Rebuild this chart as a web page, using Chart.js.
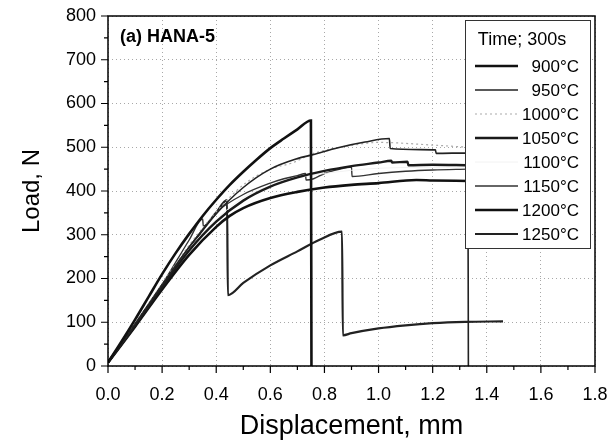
<!DOCTYPE html>
<html>
<head>
<meta charset="utf-8">
<script src="https://cdn.jsdelivr.net/npm/chart.js@4.4.0/dist/chart.umd.min.js"></script>
<style>
  html, body { margin: 0; padding: 0; background: #fff; }
</style>
</head>
<body>
<canvas id="myChart" width="611" height="443"></canvas>
<script>
// load-displacement curves: [displacement mm, load N]
var c900 = [[0,8],[0.05,56],[0.1,106],[0.15,158],[0.2,210],[0.25,258],[0.3,302],[0.35,343],[0.4,380],[0.45,414],[0.5,444],[0.55,472],[0.6,498],[0.65,520],[0.7,541],[0.75,561],[0.752,0]];
var c950 = [[0,8],[0.1,95],[0.2,185],[0.3,272],[0.4,348],[0.5,408],[0.6,450],[0.7,474],[0.757,483],[0.85,499],[0.95,512],[1.04,520],[1.043,497],[1.21,494],[1.213,486],[1.33,487],[1.332,0]];
var c1000 = [[0,8],[0.1,96],[0.2,188],[0.3,276],[0.4,352],[0.5,414],[0.6,450],[0.68,464],[0.76,486],[0.9,504],[1.0,511],[1.2,505],[1.33,500]];
var c1050 = [[0,8],[0.1,92],[0.2,180],[0.3,264],[0.4,330],[0.5,378],[0.6,410],[0.7,431],[0.8,446],[0.9,457],[1.0,465],[1.047,469],[1.05,465],[1.107,467],[1.11,459],[1.2,460],[1.33,459]];
var c1100 = [[0,8],[0.1,93],[0.2,182],[0.3,268],[0.4,335],[0.5,385],[0.6,412],[0.7,430],[0.8,440],[1.0,452],[1.33,455]];
var c1150 = [[0,8],[0.1,95],[0.2,186],[0.3,288],[0.35,336],[0.352,320],[0.4,352],[0.5,392],[0.6,418],[0.65,428],[0.7,435],[0.73,440],[0.732,425],[0.76,428],[0.8,440],[0.85,449],[0.9,455],[0.902,433],[1.0,440],[1.1,445],[1.2,448],[1.33,450]];
var c1200 = [[0,8],[0.1,90],[0.2,175],[0.3,254],[0.4,318],[0.45,343],[0.5,361],[0.6,384],[0.7,398],[0.8,408],[0.9,414],[1.0,418],[1.14,425],[1.2,424],[1.33,423]];
var c1250 = [[0,8],[0.1,95],[0.2,185],[0.3,270],[0.4,350],[0.44,379],[0.443,162],[0.5,190],[0.6,230],[0.7,262],[0.78,288],[0.865,307],[0.868,70],[0.9,75],[1.0,86],[1.1,93],[1.2,98],[1.32,101],[1.46,102]];

var labels = ["900°C", "950°C", "1000°C", "1050°C", "1100°C", "1150°C", "1200°C", "1250°C"];
var curves = [c900, c950, c1000, c1050, c1100, c1150, c1200, c1250];
var colors = ["#111", "#222", "#aaa", "#1a1a1a", "#f2f2f2", "#333", "#111", "#222"];
var widths = [2.6, 1.6, 1.2, 2.4, 1, 1.4, 2.6, 2.2];
var dashes = [[], [], [2, 3], [], [], [], [], []];

var FONT = "'Liberation Sans', Arial, sans-serif";

var datasets = [];
for (var i = 0; i < curves.length; i++) {
    datasets.push({
        label: labels[i],
        data: curves[i].map(function (p) { return {x: p[0], y: p[1]}; }),
        borderColor: colors[i],
        borderWidth: widths[i],
        borderDash: dashes[i],
        pointRadius: 0,
        cubicInterpolationMode: 'monotone',
        fill: false
    });
}

// frame, minor/major ticks, panel label and the boxed legend
var extras = {
    id: 'extras',
    afterDatasetsDraw: function (chart) {
        var ctx = chart.ctx;
        var a = chart.chartArea;
        var xs = chart.scales.x, ys = chart.scales.y;
        ctx.save();
        ctx.strokeStyle = '#000';
        ctx.lineWidth = 1.5;
        ctx.setLineDash([]);
        ctx.strokeRect(a.left, a.top, a.right - a.left, a.bottom - a.top);

        ctx.lineWidth = 1.2;
        ctx.beginPath();
        for (var k = 0; k <= 18; k++) {
            var px = xs.getPixelForValue(k / 10);
            ctx.moveTo(px, a.bottom);
            ctx.lineTo(px, a.bottom + (k % 2 === 0 ? 7 : 4));
        }
        for (var j = 0; j <= 16; j++) {
            var py = ys.getPixelForValue(j * 50);
            ctx.moveTo(a.left, py);
            ctx.lineTo(a.left - (j % 2 === 0 ? 7 : 4), py);
        }
        ctx.stroke();

        ctx.fillStyle = '#000';
        ctx.font = 'bold 18px ' + FONT;
        ctx.textAlign = 'left';
        ctx.textBaseline = 'alphabetic';
        ctx.fillText('(a) HANA-5', 120, 42);

        // legend box
        var bx = 465, by = 20, bw = 125, bh = 228;
        ctx.fillStyle = '#fff';
        ctx.fillRect(bx, by, bw, bh);
        ctx.strokeStyle = '#333';
        ctx.lineWidth = 1;
        ctx.strokeRect(bx + 0.5, by + 0.5, bw, bh);
        ctx.fillStyle = '#000';
        ctx.font = '18px ' + FONT;
        ctx.textAlign = 'center';
        ctx.fillText('Time; 300s', 522, 45);
        ctx.font = '17px ' + FONT;
        ctx.textAlign = 'right';
        ctx.textBaseline = 'middle';
        chart.data.datasets.forEach(function (ds, n) {
            var ly = 66 + n * 24;
            ctx.strokeStyle = ds.borderColor;
            ctx.lineWidth = ds.borderWidth;
            ctx.setLineDash(ds.borderDash);
            ctx.beginPath();
            ctx.moveTo(475, ly);
            ctx.lineTo(518, ly);
            ctx.stroke();
            ctx.setLineDash([]);
            ctx.fillStyle = '#000';
            ctx.fillText(ds.label, 579, ly + 1);
        });
        ctx.restore();
    }
};

var ctx = document.getElementById('myChart').getContext('2d');
var chart = new Chart(ctx, {
    type: 'line',
    data: { datasets: datasets },
    plugins: [extras],
    options: {
        responsive: false,
        devicePixelRatio: 1,
        animation: false,
        layout: { padding: { top: 16, right: 16, left: 0, bottom: 0 } },
        plugins: { legend: { display: false }, tooltip: { enabled: false } },
        scales: {
            x: {
                type: 'linear',
                min: 0, max: 1.8,
                afterFit: function (s) { s.height = 77; s.paddingLeft = 0; s.paddingRight = 0; },
                ticks: {
                    stepSize: 0.2,
                    padding: 18,
                    color: '#000',
                    font: { family: FONT, size: 18 },
                    maxRotation: 0,
                    callback: function (v) { return v.toFixed(1); }
                },
                grid: { color: '#a8a8a8', lineWidth: 1, drawTicks: false },
                border: { display: false, dash: [1, 3] },
                title: {
                    display: true,
                    text: 'Displacement, mm',
                    color: '#000',
                    font: { family: FONT, size: 27 },
                    padding: { top: 0, bottom: 0 }
                }
            },
            y: {
                min: 0, max: 800,
                afterFit: function (s) { s.width = 108; s.paddingTop = 0; s.paddingBottom = 0; },
                ticks: {
                    stepSize: 100,
                    padding: 12,
                    color: '#000',
                    font: { family: FONT, size: 18 }
                },
                grid: { color: '#a8a8a8', lineWidth: 1, drawTicks: false },
                border: { display: false, dash: [1, 3] },
                title: {
                    display: true,
                    text: 'Load, N',
                    color: '#000',
                    font: { family: FONT, size: 24 },
                    padding: { top: 18, bottom: 0 }
                }
            }
        }
    }
});
</script>
</body>
</html>
